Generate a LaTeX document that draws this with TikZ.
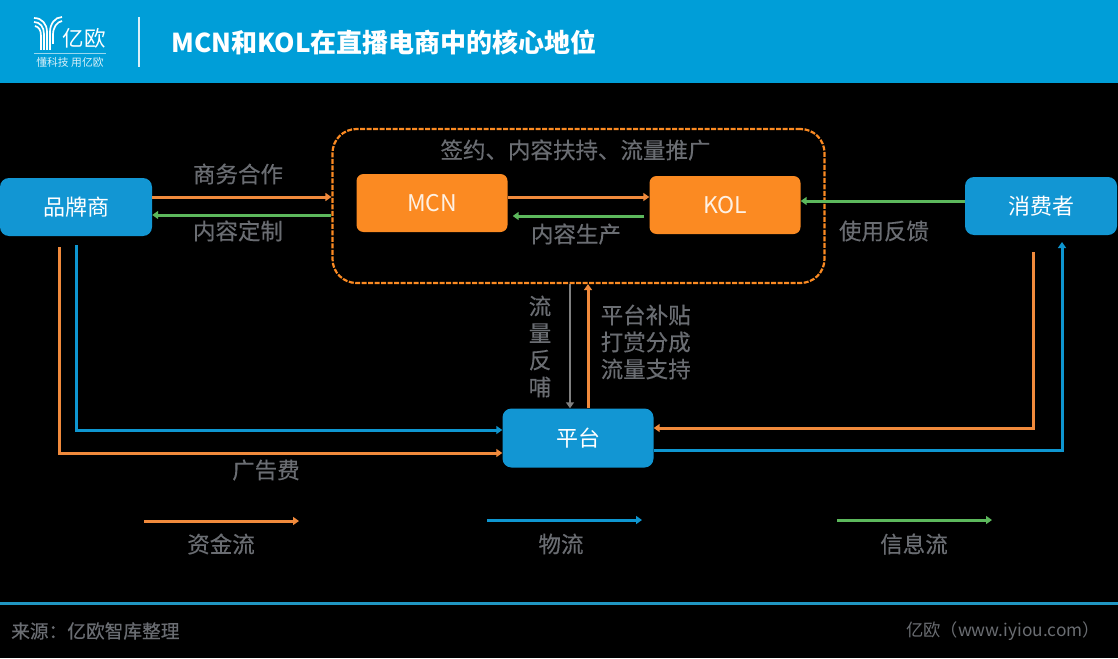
\documentclass[tikz,border=0pt]{standalone}
\usepackage{fontspec}
\setmainfont{Noto Sans CJK SC}
\usetikzlibrary{arrows.meta}
\definecolor{hdr}{HTML}{009ED8}
\definecolor{boxblue}{HTML}{1296D3}
\definecolor{boxor}{HTML}{FB8A22}
\definecolor{lor}{HTML}{F08A3C}
\definecolor{lbl}{HTML}{0E96D0}
\definecolor{lgr}{HTML}{5CB85C}
\definecolor{txt}{HTML}{6A6D72}
\newcommand{\fk}{\addfontfeature{FakeBold=0.35}}
\tikzset{
 x=1pt,y=-1pt,
 bluebox/.style={draw=none,fill=boxblue,rounded corners=9pt,inner sep=0pt,text=white,font=\fontsize{22}{24}\selectfont},
 orbox/.style={draw=none,fill=boxor,rounded corners=7pt,inner sep=0pt,text=white!88!boxor,font=\fontsize{23}{24}\selectfont},
 lab/.style={text=txt,inner sep=0pt,font=\fontsize{22.5}{27}\selectfont\fk,align=left},
 conn/.style={line width=3pt,-{Triangle[length=6pt,width=8pt]}},
 flowor/.style={conn,draw=lor},
 flowbl/.style={conn,draw=lbl},
 flowgr/.style={conn,draw=lgr},
 flowgy/.style={conn,draw=gray,line width=2pt},
 logostroke/.style={draw=white,line width=1.7pt,line cap=butt},
}
\begin{document}
\begin{tikzpicture}
\useasboundingbox (0,0) rectangle (1118,658);
\fill[black] (0,0) rectangle (1118,658);
\fill[hdr] (0,0) rectangle (1118,83);
% logo
\draw[logostroke] (34,18) .. controls (42,18) and (47,24) .. (47,32) -- (47,50);
\draw[logostroke] (34,22) .. controls (40,22) and (44,27) .. (44,34) -- (44,50);
\draw[logostroke] (35,26) .. controls (39,27) and (41,30) .. (41,36) -- (41,50);
\draw[logostroke] (62,17) .. controls (55,17) and (50,24) .. (50,32) -- (50,50);
\draw[logostroke] (62,21) .. controls (57,22) and (53,27) .. (53,35) -- (53,44);
\node[inner sep=0pt,text=white,font=\fontsize{21.5}{24}\selectfont] (brand) at (84,38) {亿欧};
\draw[white!60!hdr,line width=.7pt] (34,53) -- (106,53);
\node[inner sep=0pt,text=white!85!hdr,font=\fontsize{10.8}{12}\selectfont] (slogan) at (70,62.5) {懂科技 用亿欧};
\draw[white!85!hdr,line width=1.2pt] (139,17) -- (139,67);
\node[inner sep=0pt,anchor=west,text=white,font=\fontsize{26}{28}\selectfont\bfseries] (title) at (171,42) {MCN和KOL在直播电商中的核心地位};
% group
\node[draw=boxor,line width=2.2pt,rounded corners=24pt,minimum width=492pt,minimum height=154pt,inner sep=0pt,dash pattern=on 5pt off 1.5pt] (group) at (578.5,206) {};
% nodes
\node[bluebox,minimum width=152pt,minimum height=58pt] (brandco) at (76,207) {品牌商};
\node[orbox,minimum width=151pt,minimum height=58pt] (mcn) at (432,203) {MCN};
\node[orbox,minimum width=151pt,minimum height=58pt] (kol) at (725,205) {KOL};
\node[bluebox,minimum width=152pt,minimum height=58pt] (consumer) at (1041,206) {消费者};
\node[bluebox,minimum width=151pt,minimum height=59pt] (platform) at (578,438) {平台};
% labels
\node[lab] (l1) at (238,174) {商务合作};
\node[lab] (l2) at (238,231) {内容定制};
\node[lab] (l3) at (575.5,150) {签约、内容扶持、流量推广};
\node[lab] (l4) at (576,234) {内容生产};
\node[lab] (l5) at (884,231) {使用反馈};
\node[lab,align=center] (l6) at (540,346.5) {流\\量\\反\\哺};
\node[lab,anchor=west] (l7) at (600.5,342) {平台补贴\\打赏分成\\流量支持};
\node[lab] (l8) at (266,470) {广告费};
% coordinates
\coordinate (b1) at (59,247);
\coordinate (b2) at (76,245);
\coordinate (c1) at (1033,252);
\coordinate (c2) at (1062,242);
\draw[flowor] (brandco.east |- 0,197) -- (group.west |- 0,197);
\draw[flowgr] (group.west |- 0,215) -- (brandco.east |- 0,215);
\draw[flowor] (mcn.east |- 0,197) -- (kol.west |- 0,197);
\draw[flowgr,shorten <=5pt,shorten >=5pt] (kol.west |- 0,216) -- (mcn.east |- 0,216);
\draw[flowgr] (consumer.west |- 0,201) -- (kol.east |- 0,201);
\draw[flowgy] (group.south -| 570,0) -- (platform.north -| 570,0);
\draw[flowor] (platform.north -| 588,0) -- (group.south -| 588,0);
\draw[flowbl] (b2) |- (platform.west |- 0,430);
\draw[flowor] (b1) |- (platform.west |- 0,453);
\draw[flowor] (c1) |- (platform.east |- 0,428);
\draw[flowbl] (platform.east |- 0,450) -| (c2);
% legend
\coordinate (a1) at (144,521); \coordinate (a2) at (299,521);
\coordinate (a3) at (487,520); \coordinate (a4) at (642,520);
\coordinate (a5) at (837,520); \coordinate (a6) at (992,520);
\draw[flowor] (a1) -- (a2);
\draw[flowbl] (a3) -- (a4);
\draw[flowgr] (a5) -- (a6);
\node[lab] (k1) at (221,544) {资金流};
\node[lab] (k2) at (561,544) {物流};
\node[lab] (k3) at (914,544) {信息流};
% footer
\fill[hdr!75!gray] (0,602) rectangle (1118,605);
\node[inner sep=0pt,anchor=west,text=txt,font=\fontsize{18.7}{22}\selectfont\fk] (src) at (11,631) {来源：亿欧智库整理};
\node[inner sep=0pt,anchor=west,text=txt,font=\fontsize{17.3}{22}\selectfont] (site) at (906,631) {亿欧（www.iyiou.com）};
\end{tikzpicture}
\end{document}
